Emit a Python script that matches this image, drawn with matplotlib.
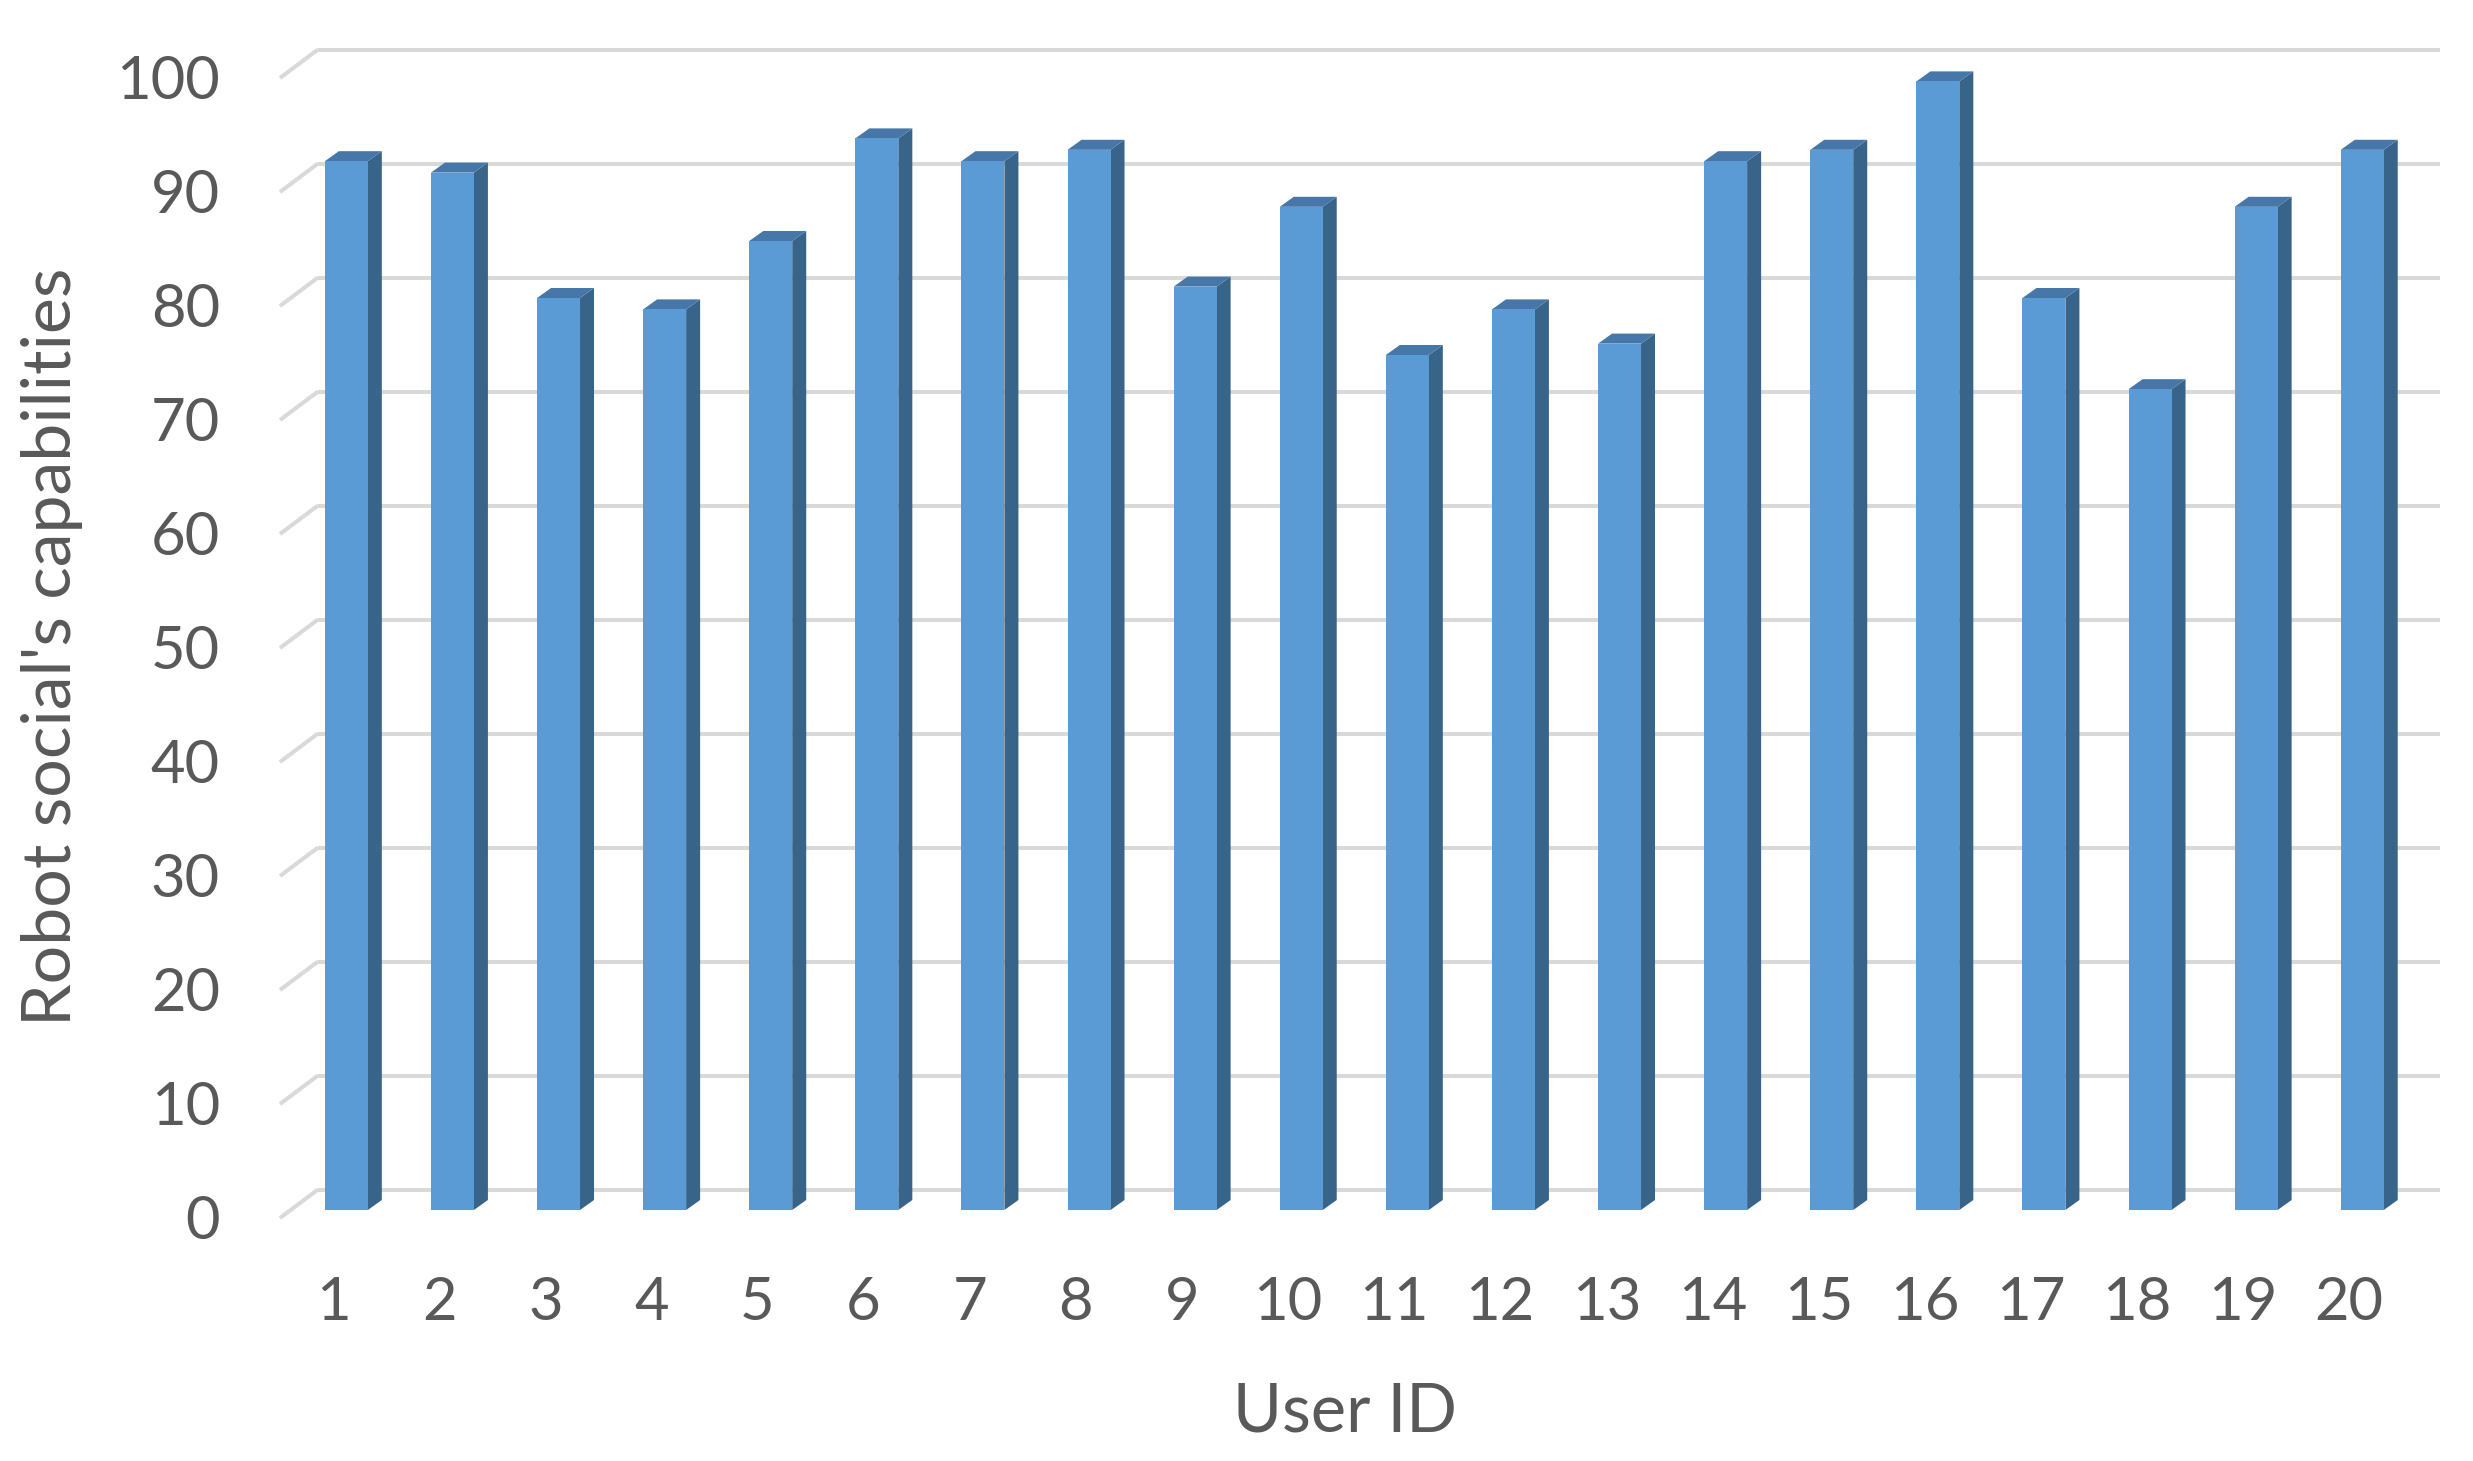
import matplotlib
matplotlib.use("Agg")
import matplotlib.pyplot as plt

# ---- data ----
user_ids = [str(i) for i in range(1, 21)]
scores = [92, 91, 80, 79, 85, 94, 92, 93, 81, 88, 75, 79, 76, 92, 93, 99, 80, 72, 88, 93]
y_ticks = list(range(0, 101, 10))
x_title = "User ID"
y_title = "Robot social's capabilities"

# ---- style ----
FONT = ["Lato", "DejaVu Sans"]
TXT = "#595959"
GRID = "#d9d9d9"
FRONT = "#5b9bd5"
SIDE = "#396489"
TOP = "#4677a8"

# pseudo-3D offsets (data units)
wall_dx, wall_dy = 0.358, 2.5      # back wall shift
bar_dx, bar_dy = 0.125, 0.7        # bar front plane shift
dep_dx, dep_dy = 0.132, 0.88       # bar depth
bar_w = 0.405

fig = plt.figure(figsize=(24.73, 14.61), dpi=100)
ax = fig.add_axes([0.10465, 0.15852, 0.8881, 0.8193])
ax.set_xlim(-0.2, 20.5)
ax.set_ylim(-1, 104)
ax.axis("off")

n = len(scores)
# gridlines on back wall with diagonal connectors
for v in y_ticks:
    ax.plot([0, wall_dx], [v, v + wall_dy], color=GRID, lw=2.9, zorder=1,
            solid_capstyle="butt")
    ax.plot([wall_dx, n + wall_dx], [v + wall_dy, v + wall_dy], color=GRID,
            lw=2.9, zorder=1, solid_capstyle="butt")
    ax.text(-0.566, v - 0.35, str(v), ha="right", va="center", fontsize=43,
            color=TXT, family=FONT)

xs = [i + 0.5 + bar_dx for i in range(n)]
bars = ax.bar(xs, scores, width=bar_w, bottom=bar_dy, color=FRONT,
              edgecolor="none", zorder=3)
for rect in bars:
    xl = rect.get_x()
    xr = xl + rect.get_width()
    b = rect.get_y()
    t = b + rect.get_height()
    ax.fill([xr, xr, xr + dep_dx, xr + dep_dx],
            [b, t, t + dep_dy, b + dep_dy], color=SIDE, lw=0, zorder=2.9)
    ax.fill([xl, xr, xr + dep_dx, xl + dep_dx],
            [t, t, t + dep_dy, t + dep_dy], color=TOP, lw=0, zorder=2.9)

for i, lab in enumerate(user_ids):
    ax.text(i + 0.5, -7.46, lab, ha="center", va="center", fontsize=43,
            color=TXT, family=FONT, clip_on=False)

fig.text(1345 / 2473, 1 - 1413 / 1461, x_title, ha="center", va="center",
         fontsize=48, color=TXT, family=FONT)
fig.text(52 / 2473, 1 - 647 / 1461, y_title, ha="center", va="center",
         rotation=90, fontsize=49, color=TXT, family=FONT)

fig.savefig("out.png", dpi=100, facecolor="white")
